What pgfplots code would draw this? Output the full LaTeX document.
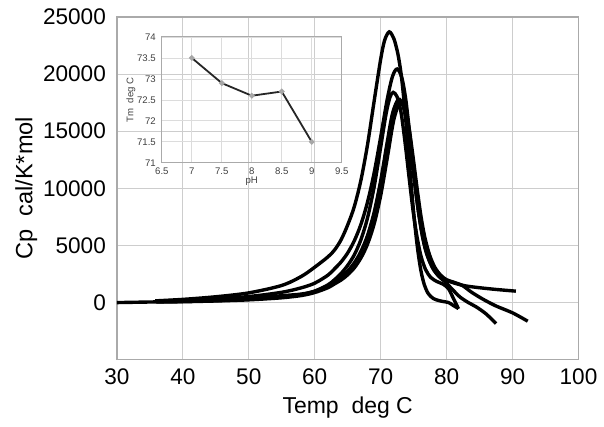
\documentclass[border=0pt]{standalone}
\usepackage{pgfplots}
\pgfplotsset{compat=1.18}
\usepackage{fontspec}
\setmainfont{Liberation Sans}
\definecolor{gridc}{RGB}{205,205,205}
\definecolor{framec}{RGB}{170,170,170}
\begin{document}
\begin{tikzpicture}
\begin{axis}[
  at={(0,0)}, anchor=south west,
  scale only axis, width=231pt, height=171.5pt,
  xmin=30, xmax=100, ymin=-5000, ymax=25000,
  xtick={30,40,...,100}, ytick={0,5000,10000,15000,20000,25000},
  scaled y ticks=false,
  /pgf/number format/assume math mode=true,
  /pgf/number format/1000 sep={},
  tick label style={font=\fontsize{11.3}{13}\selectfont},
  yticklabel style={xshift=-2pt},
  xticklabel style={yshift=-1pt},
  grid=major, major grid style={gridc, line width=0.6pt},
  axis line style={framec, line width=0.6pt},
  major tick length=0pt,
  xlabel={Temp\ \ deg C}, ylabel={Cp\ \ cal/K*mol},
  xlabel style={font=\fontsize{11.5}{13}\selectfont, yshift=1pt},
  ylabel style={font=\fontsize{11.8}{14}\selectfont, yshift=-4pt},
  clip=false,
]
% A
\addplot[black, line width=1.7pt, smooth] coordinates {
(35.8,150)(40,280)(45,510)(50,850)(55,1500)(58,2300)(60,3100)(62,4000)(63,4600)(64,5500)(65,6800)(66,8400)(67,10700)(68,13800)(69,17600)(70,21300)(70.6,22960)(71.3,23700)(72,23100)(72.6,21800)(73.1,20000)(73.6,17300)(74.1,14000)(74.6,10500)(75.1,7300)(75.6,4700)(76.1,2800)(76.6,1600)(77.2,800)(78,350)(79,150)(80.3,0)(81,-250)(81.8,-520)};
% B
\addplot[black, line width=1.7pt, smooth] coordinates {
(36,130)(40,200)(45,330)(50,530)(55,900)(58,1300)(60,1700)(62,2400)(63,2950)(64,3560)(65,4350)(66,5410)(67,6840)(68,8780)(69,11330)(70,14490)(71,17810)(71.8,19810)(72.5,20450)(73.2,19700)(73.8,17800)(74.4,14800)(75,11500)(75.6,8500)(76.2,6200)(76.8,4600)(77.5,3500)(78.3,2700)(79.2,2200)(80.2,1900)(81.5,1650)(83,1450)(85,1300)(87.5,1150)(90.5,1000)};
% C
\addplot[black, line width=1.7pt, smooth] coordinates {
(36,90)(40,130)(45,220)(50,370)(55,600)(58,750)(60,1000)(62,1550)(63,2000)(64,2550)(65,3260)(66,4180)(67,5500)(68,7400)(69,10100)(70,13600)(70.8,16460)(71.4,17970)(71.9,18400)(72.5,18000)(73.1,16600)(73.7,14000)(74.3,11000)(74.9,8100)(75.5,5800)(76.1,4100)(76.8,2900)(77.6,2200)(78.5,1850)(79.5,1600)(80.3,1200)(81,400)(81.8,-550)};
% D
\addplot[black, line width=1.7pt, smooth] coordinates {
(30,0)(36,60)(40,90)(45,170)(50,290)(55,480)(58,700)(60,1000)(62,1480)(63,1850)(64,2240)(65,2760)(66,3480)(67,4470)(68,5870)(69,7890)(70,10670)(71,14070)(71.8,16570)(72.7,17800)(73.4,17200)(74,15500)(74.6,13000)(75.2,10200)(75.8,7700)(76.4,5700)(77.1,4100)(77.9,3000)(78.8,2300)(79.8,1800)(80.8,1200)(82,500)(83.3,0)(84.5,-380)(86,-1000)(87.5,-1840)};
% E
\addplot[black, line width=1.7pt, smooth] coordinates {
(36,50)(40,75)(45,140)(50,240)(55,420)(58,620)(60,880)(62,1300)(63,1635)(64,1975)(65,2430)(66,3040)(67,3900)(68,5110)(69,6870)(70,9370)(71,12660)(72,16030)(73,17600)(73.7,17000)(74.3,15300)(74.9,12800)(75.5,10100)(76.1,7600)(76.7,5700)(77.4,4200)(78.2,3100)(79.1,2400)(80,2000)(81,1800)(82.4,1490)(83.8,900)(85.5,300)(87.5,-300)(90,-900)(92.3,-1630)};
\end{axis}
\begin{axis}[
  at={(22.5pt,98.5pt)}, anchor=south west,
  scale only axis, width=90pt, height=63pt,
  xmin=6.5, xmax=9.5, ymin=71, ymax=74,
  xtick={6.5,7,...,9.5}, ytick={71,71.5,...,74},
  /pgf/number format/assume math mode=true,
  /pgf/number format/.cd, fixed, precision=1, /pgfplots/.cd,
  tick label style={font=\fontsize{4.8}{5.5}\selectfont, text=black!75},
  xticklabel style={yshift=1pt},
  yticklabel style={xshift=0.5pt},
  grid=major, major grid style={gridc!70, line width=0.4pt},
  axis line style={framec, line width=0.5pt},
  major tick length=0pt,
  xlabel={pH}, ylabel={Tm\ \ deg C},
  label style={font=\fontsize{4.8}{5.5}\selectfont, text=black!75},
  xlabel style={yshift=6pt},
  ylabel style={yshift=-6pt},
]
\addplot[black!85, line width=0.9pt, mark=*, mark size=0.9pt, mark options={fill=black!25, draw=black!35}] coordinates {
(7,73.5)(7.5,72.9)(8,72.6)(8.5,72.7)(9,71.5)};
\end{axis}
\useasboundingbox (-58.5pt,-33.5pt) rectangle (243.5pt,180pt);
\end{tikzpicture}
\end{document}
